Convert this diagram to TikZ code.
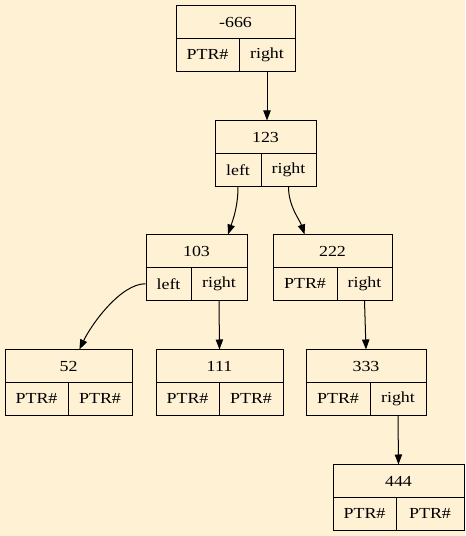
\documentclass[tikz,border=0pt]{standalone}
\usepackage{fontspec}
\setmainfont{Liberation Serif}[FakeStretch=1.17]
\usetikzlibrary{arrows.meta}
\definecolor{bgpaper}{RGB}{255,241,212}

\begin{document}
\begin{tikzpicture}[x=0.75pt, y=-0.75pt,
  cell/.style={draw, line width=0.75pt, inner sep=0pt, minimum height=24.4pt,
    font=\fontsize{11.5}{13}\selectfont},
  link/.style={line width=0.75pt, -{Triangle[length=7.5pt,width=5.5pt]}}]
  \fill[bgpaper] (0,0) rectangle (465,536);
  \useasboundingbox (0,0) rectangle (465,536);

  % Radice -666
  \node[cell, minimum width=89.25pt] (r666) at (235.5,22.25) {-666};
  \node[cell, minimum width=47.25pt] (r666l) at (207.5,54.75) {PTR\#};
  \node[cell, minimum width=42pt] (r666r) at (267,54.75) {right};

  % Nodo 123
  \node[cell, minimum width=75.75pt] (r123) at (265.5,137.25) {123};
  \node[cell, minimum width=34.5pt] (r123l) at (238,169.75) {left};
  \node[cell, minimum width=41.25pt] (r123r) at (288.5,169.75) {right};

  % Nodo 103
  \node[cell, minimum width=75.75pt] (r103) at (196.5,251.25) {103};
  \node[cell, minimum width=33.75pt] (r103l) at (168.5,283.75) {left};
  \node[cell, minimum width=42pt] (r103r) at (219,283.75) {right};

  % Nodo 222
  \node[cell, minimum width=89.25pt] (r222) at (332.5,251.25) {222};
  \node[cell, minimum width=48pt] (r222l) at (305,283.75) {PTR\#};
  \node[cell, minimum width=41.25pt] (r222r) at (364.5,283.75) {right};

  % Foglie 52 e 111
  \node[cell, minimum width=95.25pt] (r52) at (68.5,366.25) {52};
  \node[cell, minimum width=47.25pt] (r52l) at (36.5,398.75) {PTR\#};
  \node[cell, minimum width=48pt] (r52r) at (100,398.75) {PTR\#};

  \node[cell, minimum width=95.25pt] (r111) at (219.5,366.25) {111};
  \node[cell, minimum width=47.25pt] (r111l) at (187.5,398.75) {PTR\#};
  \node[cell, minimum width=48pt] (r111r) at (251,398.75) {PTR\#};

  % Nodo 333
  \node[cell, minimum width=90pt] (r333) at (366,366.25) {333};
  \node[cell, minimum width=48pt] (r333l) at (338,398.75) {PTR\#};
  \node[cell, minimum width=42pt] (r333r) at (398,398.75) {right};

  % Foglia 444
  \node[cell, minimum width=98.25pt] (r444) at (398.5,481.25) {444};
  \node[cell, minimum width=47.25pt] (r444l) at (364.5,513.75) {PTR\#};
  \node[cell, minimum width=51pt] (r444r) at (430,513.75) {PTR\#};

  % Archi
  \draw[link] (r666r.south) -- (r666r.south |- r123.north);
  \draw[link] (r123l.south) .. controls +(0,20) and +(5,-15) .. (r103.28);
  \draw[link] (r123r.south) .. controls +(0,20) and +(-5,-15) .. (r222.149);
  \draw[link] (r103l.west) .. controls +(-25,0) and +(12,-25) .. (r52.57);
  \draw[link] (r103r.south) -- (r111.north);
  \draw[link] (r222r.south) -- (r333.north);
  \draw[link] (r333r.south) -- (r444.north);
\end{tikzpicture}
\end{document}
